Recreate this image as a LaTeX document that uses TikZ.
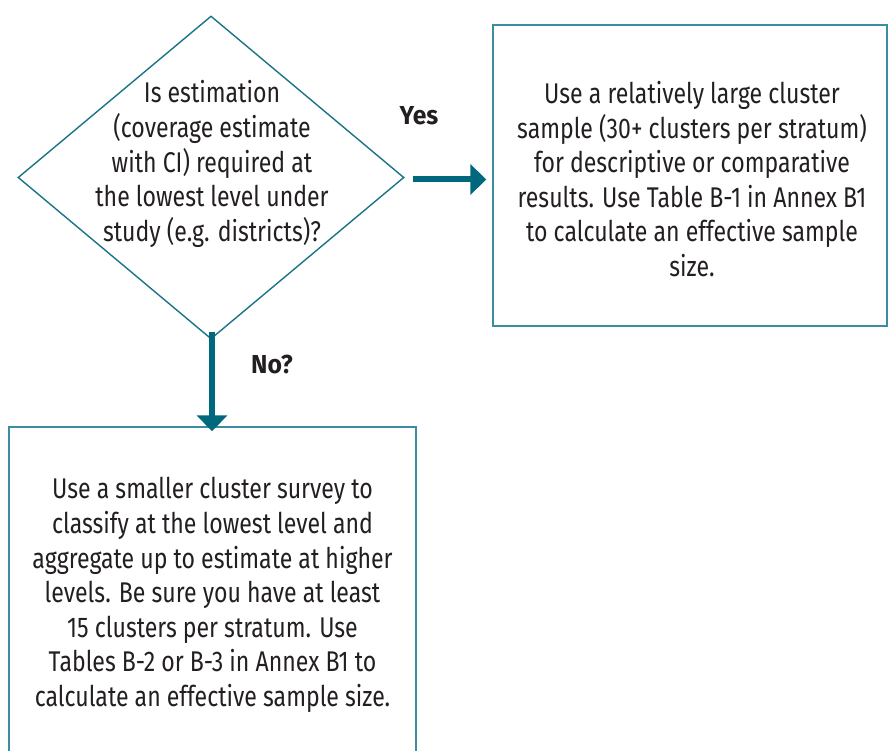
\documentclass[tikz,border=0pt]{standalone}
\usepackage{fontspec}
\setmainfont{Fira Sans}[FakeStretch=0.81]
\newfontfamily\lblfont{Fira Sans}[FakeStretch=0.95]
\usetikzlibrary{shapes.geometric,arrows.meta}
\definecolor{arrowteal}{HTML}{00687D}
\definecolor{diateal}{HTML}{1A7485}
\definecolor{boxteal}{HTML}{3B8E9D}
\definecolor{txt}{HTML}{231F20}
\tikzset{
  body/.style={text=txt, font=\fontsize{28.5}{34.6}\selectfont, align=center, inner sep=0pt},
  lbl/.style={text=txt, font=\lblfont\fontsize{26}{28}\selectfont\bfseries, inner sep=0pt},
  boxstyle/.style={draw=boxteal, line width=1.4pt, inner sep=0pt},
  flow/.style={draw=arrowteal, line width=6pt, -{Triangle[length=16pt,width=30pt]}}
}
\begin{document}
\begin{tikzpicture}[x=1pt,y=-1pt]
\useasboundingbox (0,0) rectangle (888,751);
\clip (0,0) rectangle (888,751);
\node[diamond, draw=diateal, line width=1.4pt, minimum width=386pt, minimum height=323pt, inner sep=0pt] (dia) at (211,177.5) {};
\node[body] (q) at (212,164) {Is estimation\\(coverage estimate\\with CI) required at\\the lowest level under\\study (e.g. districts)?};
\node[boxstyle, minimum width=394pt, minimum height=301pt] (yesbox) at (690,175.5) {};
\node[body] (yestxt) at (692,179) {Use a relatively large cluster\\sample (30+ clusters per stratum)\\for descriptive or comparative\\results. Use Table B-1 in Annex B1\\to calculate an effective sample\\size.};
\node[boxstyle, minimum width=407pt, minimum height=336pt] (nobox) at (212.5,595) {};
\node[body] (notxt) at (212.5,595) {Use a smaller cluster survey to\\classify at the lowest level and\\aggregate up to estimate at higher\\levels. Be sure you have at least\\15 clusters per stratum. Use\\Tables B-2 or B-3 in Annex B1 to\\calculate an effective sample size.};
\draw[flow] ([xshift=8pt,yshift=-2pt]dia.east) -- ([xshift=-6pt,yshift=-2pt]dia.east -| yesbox.west);
\draw[flow] ([xshift=1pt,yshift=8pt]dia.south) -- ([xshift=1pt,yshift=-5pt]dia.south |- nobox.north);
\node[lbl] (yes) at (419,116) {Yes};
\node[lbl] (no) at (272,364) {No?};
\end{tikzpicture}
\end{document}
